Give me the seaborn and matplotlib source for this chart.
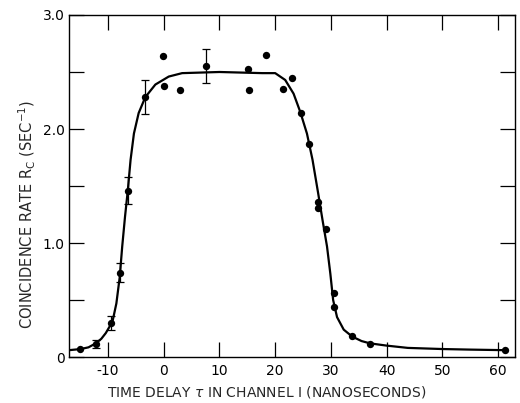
import numpy as np
import pandas as pd
import matplotlib
matplotlib.use('Agg')
import matplotlib.pyplot as plt
import seaborn as sns

sns.set_style('ticks')
plt.rcParams['font.family'] = ['DejaVu Sans']

delay = [-15.1, -12.1, -9.4, -7.8, -6.4, -3.4, -0.05, 0.0, 3.0, 7.5,
         15.2, 15.3, 18.3, 21.4, 23.1, 24.6, 26.1, 27.6, 27.6, 29.2,
         30.6, 30.6, 33.7, 37.0, 61.3]
rate = [0.07, 0.11, 0.30, 0.74, 1.46, 2.28, 2.64, 2.38, 2.34, 2.55,
        2.53, 2.34, 2.65, 2.35, 2.45, 2.14, 1.87, 1.36, 1.31, 1.12,
        0.56, 0.44, 0.18, 0.11, 0.06]

# points with error bars
err_x = [-12.1, -9.4, -7.8, -6.4, -3.4, 7.5]
err_y = [0.11, 0.30, 0.74, 1.46, 2.28, 2.55]
err_size = [0.035, 0.06, 0.085, 0.115, 0.15, 0.15]

# fitted curve
curve_x = [-17.0, -14.9, -13.5, -12.2, -11.2, -10.4, -9.2, -8.5, -7.9, -7.45,
           -6.95, -6.45, -5.95, -5.35, -4.5, -3.3, -1.5, 0.9, 3.3, 10.0,
           17.7, 20.0, 21.8, 23.3, 24.5, 25.7, 26.7, 27.7, 28.5, 29.3,
           29.9, 30.4, 31.1, 32.3, 33.8, 35.5, 37.0, 40.0, 43.8, 50.0,
           55.0, 61.3]
curve_y = [0.06, 0.07, 0.085, 0.12, 0.16, 0.21, 0.31, 0.47, 0.70, 0.97,
           1.23, 1.46, 1.73, 1.96, 2.14, 2.28, 2.39, 2.46, 2.49, 2.50,
           2.49, 2.49, 2.43, 2.31, 2.15, 1.96, 1.73, 1.44, 1.20, 0.97,
           0.73, 0.50, 0.35, 0.24, 0.18, 0.14, 0.12, 0.10, 0.08, 0.07,
           0.065, 0.06]

pts = pd.DataFrame({'delay': delay, 'rate': rate})
fit = pd.DataFrame({'delay': curve_x, 'rate': curve_y})

fig = plt.figure(figsize=(5.2, 4.03), dpi=100)
ax = fig.add_axes([0.1327, 0.1141, 0.8573, 0.8487])

sns.lineplot(data=fit, x='delay', y='rate', ax=ax, color='black', lw=1.6,
             sort=False, estimator=None)
sns.scatterplot(data=pts, x='delay', y='rate', ax=ax, color='black', s=28,
                edgecolor='black', linewidth=0, zorder=5)
ax.errorbar(err_x, err_y, yerr=err_size, fmt='none', ecolor='black',
            elinewidth=0.9, capsize=3, capthick=0.9, zorder=4)

ax.set_xlim(-17, 63)
ax.set_ylim(0, 3.0)
ax.set_xticks([-10, 0, 10, 20, 30, 40, 50, 60])
ax.set_xticklabels(['-10', '0', '10', '20', '30', '40', '50', '60'])
ax.set_yticks([0, 1.0, 2.0, 3.0])
ax.set_yticklabels(['0', '1.0', '2.0', '3.0'])
ax.set_yticks([0.5, 1.5, 2.5], minor=True)
ax.tick_params(which='both', direction='in', length=11, width=0.9,
               top=True, right=True, labelsize=10, pad=5, colors='black')
ax.tick_params(axis='y', which='major', pad=3)
for s in ax.spines.values():
    s.set_linewidth(1.0)
    s.set_color('black')

ax.set_xlabel('')
ax.set_ylabel('')
fig.text(0.512, 0.027, 'TIME DELAY $\\tau$ IN CHANNEL I (NANOSECONDS)',
         ha='center', va='center', fontsize=10)
fig.text(0.052, 0.468, 'COINCIDENCE RATE R$_\\mathregular{C}$ (SEC$^{-1}$)',
         ha='center', va='center', rotation=90, fontsize=10.5)

fig.savefig('out.png', dpi=100)
